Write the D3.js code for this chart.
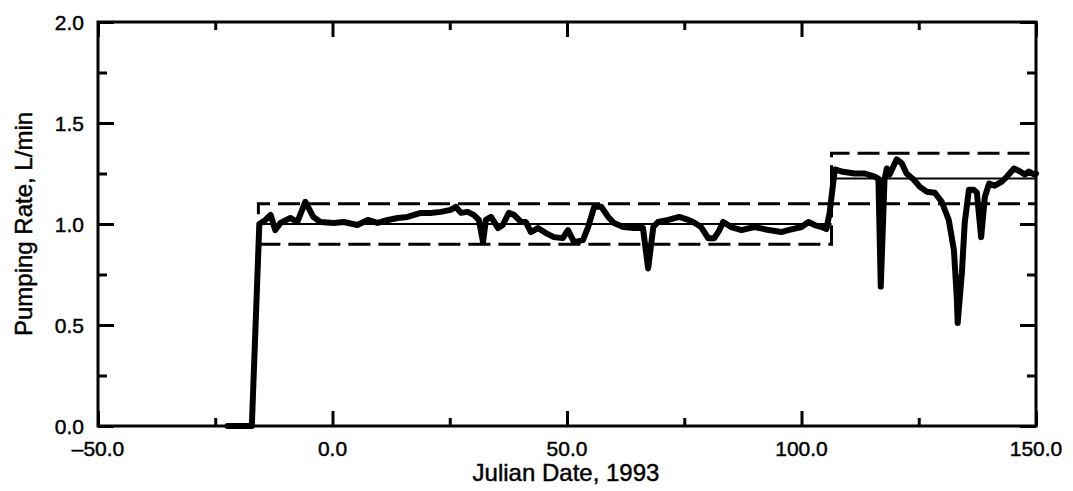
<!DOCTYPE html>
<html>
<head>
<meta charset="utf-8">
<script src="https://cdn.jsdelivr.net/npm/d3@7"></script>
<style>
  html, body { margin: 0; padding: 0; background: #fff; }
  svg { display: block; }
  text { font-family: "Liberation Sans", Arial, Helvetica, sans-serif; fill: #000; stroke: #000; stroke-width: 0.45px; }
</style>
</head>
<body>
<svg id="chart" width="1073" height="491"></svg>
<script>
// ---- data ----
const dates = [-22.4,-17.2,-15.6,-14.3,-13.2,-12.2,-11.1,-9.0,-7.5,-5.8,-4.1,-2.6,0.2,2.4,5.3,7.5,9.6,11.8,13.9,16.0,18.8,20.9,23.1,25.2,26.3,27.4,28.8,30.1,31.2,32.1,32.7,33.8,35.3,36.3,37.6,38.7,40.2,41.2,42.3,43.8,45.5,47.2,49.1,50.2,51.5,53.4,54.5,55.8,57.3,58.8,60.0,62.0,64.3,66.2,67.3,68.4,69.4,71.6,73.9,75.9,76.9,78.6,80.1,81.4,82.5,83.3,85.0,87.2,90.0,93.0,95.7,97.2,100.0,101.5,102.8,104.3,105.3,106.0,107.1,108.5,111.3,113.5,115.6,116.4,116.9,117.7,118.2,118.8,120.3,121.4,122.4,123.9,125.2,126.7,128.4,129.9,131.4,132.5,133.1,133.3,134.2,134.8,135.7,136.7,137.4,138.3,139.1,140.0,141.2,142.7,143.8,145.3,146.6,147.6,148.5,149.6,150.0];
const rates = [0,0,1.0,1.02,1.045,0.97,1.005,1.03,1.01,1.11,1.035,1.01,1.005,1.01,0.995,1.02,1.005,1.02,1.03,1.035,1.055,1.055,1.06,1.07,1.085,1.055,1.06,1.045,1.02,0.91,1.02,1.035,0.98,0.995,1.055,1.045,1.01,1.01,0.96,0.98,0.955,0.935,0.93,0.97,0.91,0.92,0.985,1.085,1.085,1.035,1.005,0.985,0.98,0.98,0.78,0.985,1.01,1.02,1.035,1.02,1.01,0.985,0.93,0.93,0.97,1.01,0.985,0.97,0.985,0.97,0.96,0.97,0.985,1.01,0.995,0.985,0.975,1.055,1.27,1.26,1.25,1.25,1.235,1.225,0.69,1.22,1.275,1.245,1.32,1.30,1.25,1.22,1.185,1.16,1.155,1.11,1.02,0.87,0.64,0.51,0.76,1.005,1.17,1.17,1.155,0.935,1.135,1.20,1.19,1.21,1.235,1.275,1.26,1.245,1.26,1.245,1.25];

// target bands (design rate +/- 10%)
const bandStart = [-15.8, 106.4];
const bandEnd   = [106.4, 150.0];
const targetRate = [1.0, 1.225];
const upperRate  = [1.1, 1.35];
const lowerRate  = [0.9, 1.1];

const xMajorTicks = [-50, 0, 50, 100, 150];
const xTickLabels = ["\u201350.0", "0.0", "50.0", "100.0", "150.0"];
const xMinorTicks = [-25, 25, 75, 125];
const yMajorTicks = [0, 0.5, 1.0, 1.5, 2.0];
const yTickLabels = ["0.0", "0.5", "1.0", "1.5", "2.0"];
const yMinorTicks = [0.25, 0.75, 1.25, 1.75];

const xTitle = "Julian Date, 1993";
const yTitle = "Pumping Rate, L/min";

// ---- layout ----
const L = 98, R = 1036, T = 22, B = 426;
const svg = d3.select("#chart");
const x = d3.scaleLinear().domain([-50, 150]).range([L, R]);
const y = d3.scaleLinear().domain([0, 2]).range([B, T]);

// ticks (inward), on all four sides
function addAxis(axisFn, scale, ticks, size, transform) {
  const g = svg.append("g").attr("transform", transform)
    .call(axisFn(scale).tickValues(ticks).tickSizeInner(-size).tickSizeOuter(0).tickFormat(""));
  g.select(".domain").remove();
  g.selectAll("line").attr("stroke", "#000").attr("stroke-width", 3);
  return g;
}
addAxis(d3.axisBottom, x, xMajorTicks, 15, `translate(0,${B})`);
addAxis(d3.axisBottom, x, xMinorTicks, 8, `translate(0,${B})`);
addAxis(d3.axisTop, x, xMajorTicks, 15, `translate(0,${T})`);
addAxis(d3.axisTop, x, xMinorTicks, 8, `translate(0,${T})`);
addAxis(d3.axisLeft, y, yMajorTicks, 16, `translate(${L},0)`);
addAxis(d3.axisLeft, y, yMinorTicks, 9, `translate(${L},0)`);
addAxis(d3.axisRight, y, yMajorTicks, 16, `translate(${R},0)`);
addAxis(d3.axisRight, y, yMinorTicks, 9, `translate(${R},0)`);

// tick labels
svg.append("g").selectAll("text").data(xMajorTicks).join("text")
  .attr("x", d => x(d)).attr("y", 456)
  .attr("text-anchor", "middle").attr("font-size", 21)
  .text((d, i) => xTickLabels[i]);
svg.append("g").selectAll("text").data(yMajorTicks).join("text")
  .attr("x", L - 14).attr("y", d => y(d)).attr("dy", "0.36em")
  .attr("text-anchor", "end").attr("font-size", 21)
  .text((d, i) => yTickLabels[i]);

// titles
svg.append("text").attr("x", 566).attr("y", 481)
  .attr("text-anchor", "middle").attr("font-size", 24).text(xTitle);
svg.append("text")
  .attr("transform", `translate(32,${(T + B) / 2}) rotate(-90)`)
  .attr("text-anchor", "middle").attr("font-size", 24).text(yTitle);

// target lines (thin)
svg.append("g").selectAll("line").data(targetRate).join("line")
  .attr("x1", (d, i) => x(bandStart[i])).attr("x2", (d, i) => x(bandEnd[i]))
  .attr("y1", d => y(d)).attr("y2", d => y(d))
  .attr("stroke", "#000").attr("stroke-width", 2);

// dashed limit lines
const upperPts = [[bandStart[0], lowerRate[0]]];
bandStart.forEach((s, i) => { upperPts.push([s, upperRate[i]], [bandEnd[i], upperRate[i]]); });
const lowerPts = [];
bandStart.forEach((s, i) => { lowerPts.push([s, lowerRate[i]], [bandEnd[i], lowerRate[i]]); });
const lineGen = d3.line().x(d => x(d[0])).y(d => y(d[1]));
[upperPts, lowerPts].forEach(pts => {
  svg.append("path").attr("d", lineGen(pts))
    .attr("fill", "none").attr("stroke", "#000").attr("stroke-width", 3)
    .attr("stroke-dasharray", "22,8");
});

// data series
const series = dates.map((d, i) => [d, rates[i]]);
svg.append("path").attr("d", lineGen(series))
  .attr("fill", "none").attr("stroke", "#000").attr("stroke-width", 6)
  .attr("stroke-linejoin", "round").attr("stroke-linecap", "round");

// frame
svg.append("rect").attr("x", L).attr("y", T).attr("width", R - L).attr("height", B - T)
  .attr("fill", "none").attr("stroke", "#000").attr("stroke-width", 3);
</script>
</body>
</html>
